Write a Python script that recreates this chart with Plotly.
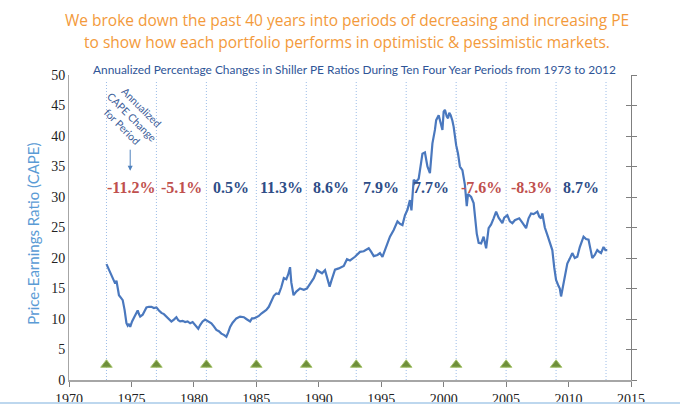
import plotly.graph_objects as go

# ---- data ----
years = [1973.0,1973.2,1973.4,1973.55,1973.7,1973.8,1973.9,1974.0,1974.15,1974.3,1974.45,1974.6,1974.7,1974.8,1974.9,
         1975.05,1975.25,1975.4,1975.5,1975.6,1975.7,1975.9,1976.05,1976.2,1976.4,1976.6,1976.8,1977.0,1977.2,1977.4,
         1977.6,1977.8,1978.0,1978.2,1978.4,1978.6,1978.75,1978.9,1979.1,1979.3,1979.5,1979.7,1979.9,1980.1,1980.25,
         1980.35,1980.5,1980.7,1980.9,1981.1,1981.4,1981.6,1981.8,1982.0,1982.2,1982.4,1982.6,1982.75,1982.9,1983.1,
         1983.4,1983.7,1984.0,1984.2,1984.5,1984.65,1984.8,1985.0,1985.2,1985.4,1985.6,1985.8,1986.0,1986.2,1986.4,
         1986.6,1986.8,1987.0,1987.2,1987.4,1987.55,1987.7,1987.8,1987.98,1988.2,1988.5,1988.8,1989.05,1989.3,1989.6,
         1989.86,1990.1,1990.26,1990.5,1990.7,1990.87,1991.0,1991.3,1991.6,1992.0,1992.26,1992.5,1992.9,1993.3,1993.6,
         1994.0,1994.2,1994.4,1994.7,1994.9,1995.1,1995.4,1995.7,1996.0,1996.3,1996.5,1996.7,1996.9,1997.1,1997.3,
         1997.42,1997.6,1997.8,1998.0,1998.15,1998.3,1998.5,1998.7,1998.9,1999.1,1999.3,1999.4,1999.6,1999.75,1999.9,
         2000.0,2000.1,2000.25,2000.35,2000.45,2000.56,2000.7,2000.8,2001.0,2001.15,2001.3,2001.5,2001.7,2001.85,2001.95,
         2002.2,2002.4,2002.55,2002.65,2002.8,2003.0,2003.2,2003.4,2003.6,2003.8,2004.0,2004.2,2004.4,2004.7,2004.85,
         2005.1,2005.3,2005.5,2005.7,2006.05,2006.3,2006.6,2006.8,2007.0,2007.2,2007.5,2007.65,2007.8,2007.9,2008.1,
         2008.3,2008.5,2008.7,2008.85,2009.0,2009.2,2009.3,2009.4,2009.55,2009.66,2009.9,2010.1,2010.3,2010.5,2010.7,
         2010.9,2011.2,2011.4,2011.6,2011.75,2011.9,2012.1,2012.3,2012.45,2012.6,2012.8,2012.95,2013.1]
cape = [19.0,18.0,17.2,16.5,15.8,16.3,15.0,13.9,13.5,13.1,11.5,9.3,8.9,9.2,8.7,
        9.6,10.4,11.0,11.4,10.8,10.4,10.7,11.2,11.9,12.0,12.0,11.8,11.9,11.4,11.0,
        10.8,10.4,10.1,9.6,9.9,10.3,9.8,9.6,9.7,9.5,9.6,9.3,9.5,9.0,8.6,
        8.4,9.0,9.6,9.9,9.7,9.3,8.8,8.2,8.0,7.6,7.4,7.1,7.8,8.7,9.4,
        10.1,10.4,10.3,10.0,9.6,10.1,10.1,10.3,10.5,10.9,11.2,11.5,12.0,13.0,13.8,
        14.2,14.1,15.2,16.7,16.5,17.3,18.5,16.0,13.9,14.5,15.0,14.8,15.0,15.8,16.7,
        18.0,17.7,17.5,18.0,16.5,15.3,16.2,18.1,18.3,18.7,19.8,19.6,20.2,21.0,21.1,
        21.6,21.0,20.3,20.5,20.8,20.2,21.8,23.5,24.6,26.0,25.6,25.4,27.0,27.9,29.5,
        27.8,32.8,32.5,33.0,35.5,37.1,37.3,35.0,33.9,38.8,41.0,42.6,43.4,42.0,41.0,
        44.0,44.3,43.2,42.9,43.8,43.4,42.5,41.5,38.5,37.1,35.0,34.4,32.0,28.5,30.5,
        30.0,29.0,25.5,24.0,22.5,22.4,23.5,21.6,24.9,25.5,26.5,27.6,26.6,25.7,26.6,
        27.0,26.0,25.7,26.2,26.5,25.8,24.9,26.5,27.3,27.2,27.6,26.8,26.5,27.3,25.0,
        23.8,22.5,21.3,18.5,16.4,15.4,15.0,13.7,15.5,16.4,19.1,19.9,20.8,20.0,20.2,
        21.8,23.5,23.1,23.0,21.5,20.0,20.5,21.3,21.0,20.8,21.8,21.3,21.3]

period_starts = [1973, 1977, 1981, 1985, 1989, 1993, 1997, 2001, 2005, 2009]
period_end = 2013
period_changes = [-11.2, -5.1, 0.5, 11.3, 8.6, 7.9, 7.7, -7.6, -8.3, 8.7]
label_level = 31.5
marker_level = 2.5
line_top = 49.2

title_line1 = "We broke down the past 40 years into periods of decreasing and increasing PE"
title_line2 = "to show how each portfolio performs in optimistic &amp; pessimistic markets."
subtitle_text = ("Annualized Percentage Changes in Shiller PE Ratios During Ten Four Year "
                 "Periods from 1973 to 2012")
y_title = "Price-Earnings Ratio (CAPE)"
note_text = "Annualized<br>CAPE Change<br>for Period"

RED = "#C0504D"
DARKBLUE = "#2E4D87"

fig = go.Figure()

# vertical dotted period boundaries
shapes = []
for b in period_starts + [period_end]:
    shapes.append(dict(type="line", xref="x", yref="y", x0=b, x1=b, y0=0, y1=line_top,
                       line=dict(color="#9DBDE8", width=1, dash="1px,2px"), layer="below"))
# bottom slide border line
shapes.append(dict(type="line", xref="paper", yref="paper", x0=-0.2, x1=1.2, y0=-0.075, y1=-0.075,
                   line=dict(color="#BDD7EE", width=2)))

fig.add_trace(go.Scatter(x=years, y=cape, mode="lines",
                         line=dict(color="#4A78BE", width=2.2), hoverinfo="skip", showlegend=False))

fig.add_trace(go.Scatter(x=period_starts, y=[marker_level] * len(period_starts), mode="markers",
                         marker=dict(symbol="triangle-up", size=10, color="#6F8F3A",
                                     line=dict(color="#A5C46A", width=1)),
                         showlegend=False, hoverinfo="skip"))

# invisible traces on right axis to carry ticks
fig.add_trace(go.Scatter(x=[1970], y=[0], yaxis="y2", mode="markers", marker=dict(opacity=0),
                         showlegend=False, hoverinfo="skip"))
fig.add_trace(go.Scatter(x=[1970], y=[0], yaxis="y3", mode="markers", marker=dict(opacity=0),
                         showlegend=False, hoverinfo="skip"))

annotations = []
for s, c in zip(period_starts, period_changes):
    annotations.append(dict(x=s + 2, y=label_level, xref="x", yref="y", showarrow=False,
                            xanchor="center", yanchor="middle",
                            text=f"{c:.1f}%",
                            font=dict(family="Liberation Serif", size=16,
                                      color=RED if c < 0 else DARKBLUE, weight="bold")))

title_font = dict(family="Open Sans", size=15.5, color="#F39A3B")
annotations.append(dict(x=0.494, y=1.180, xref="paper", yref="paper", showarrow=False,
                        xanchor="center", yanchor="middle", text=title_line1, font=title_font))
annotations.append(dict(x=0.494, y=1.108, xref="paper", yref="paper", showarrow=False,
                        xanchor="center", yanchor="middle", text=title_line2, font=title_font))
annotations.append(dict(x=0.508, y=1.018, xref="paper", yref="paper", showarrow=False,
                        xanchor="center", yanchor="middle", text=subtitle_text,
                        font=dict(family="Lato", size=11.9, color="#2F5597")))
annotations.append(dict(x=-0.064, y=0.48, xref="paper", yref="paper", showarrow=False,
                        xanchor="center", yanchor="middle", text=y_title, textangle=-90,
                        font=dict(family="Lato", size=15, color="#5B9BD5")))
annotations.append(dict(x=1975.1, y=43.1, xref="x", yref="y", showarrow=False,
                        xanchor="center", yanchor="middle",
                        text=note_text, textangle=45, align="center",
                        font=dict(family="Lato", size=10.5, color="#3D5E9A")))
annotations.append(dict(x=1974.9, y=34.3, ax=1974.9, ay=38.0, xref="x", yref="y",
                        axref="x", ayref="y", text="", showarrow=True,
                        arrowhead=2, arrowsize=1, arrowwidth=1, arrowcolor="#4F81BD"))

axis_font = dict(family="Liberation Serif", size=14, color="#222222")
fig.update_layout(
    width=680, height=406,
    margin=dict(l=69, r=49, t=75, b=26, autoexpand=False),
    plot_bgcolor="white", paper_bgcolor="white",
    shapes=shapes, annotations=annotations,
    xaxis=dict(range=[1970, 2015], dtick=5, tick0=1970, showgrid=False, zeroline=False,
               showline=True, linecolor="#A6A6A6", linewidth=2, ticks="outside", ticklen=5,
               tickcolor="#7F7F7F", tickfont=axis_font, automargin=False),
    yaxis=dict(range=[0, 50], dtick=5, showgrid=False, zeroline=False, showline=True,
               linecolor="#A6A6A6", linewidth=1, ticks="", tickfont=axis_font, automargin=False),
    yaxis2=dict(range=[0, 50], dtick=5, overlaying="y", side="right", showgrid=False,
                zeroline=False, showline=True, linecolor="#7F7F7F", linewidth=1,
                ticks="outside", ticklen=5, tickcolor="#7F7F7F", showticklabels=False,
                automargin=False),
    yaxis3=dict(range=[0, 50], dtick=5, overlaying="y", side="right", showgrid=False,
                zeroline=False, showline=False, ticks="inside", ticklen=5,
                tickcolor="#7F7F7F", showticklabels=False, automargin=False),
)

fig.write_html("out.html")
